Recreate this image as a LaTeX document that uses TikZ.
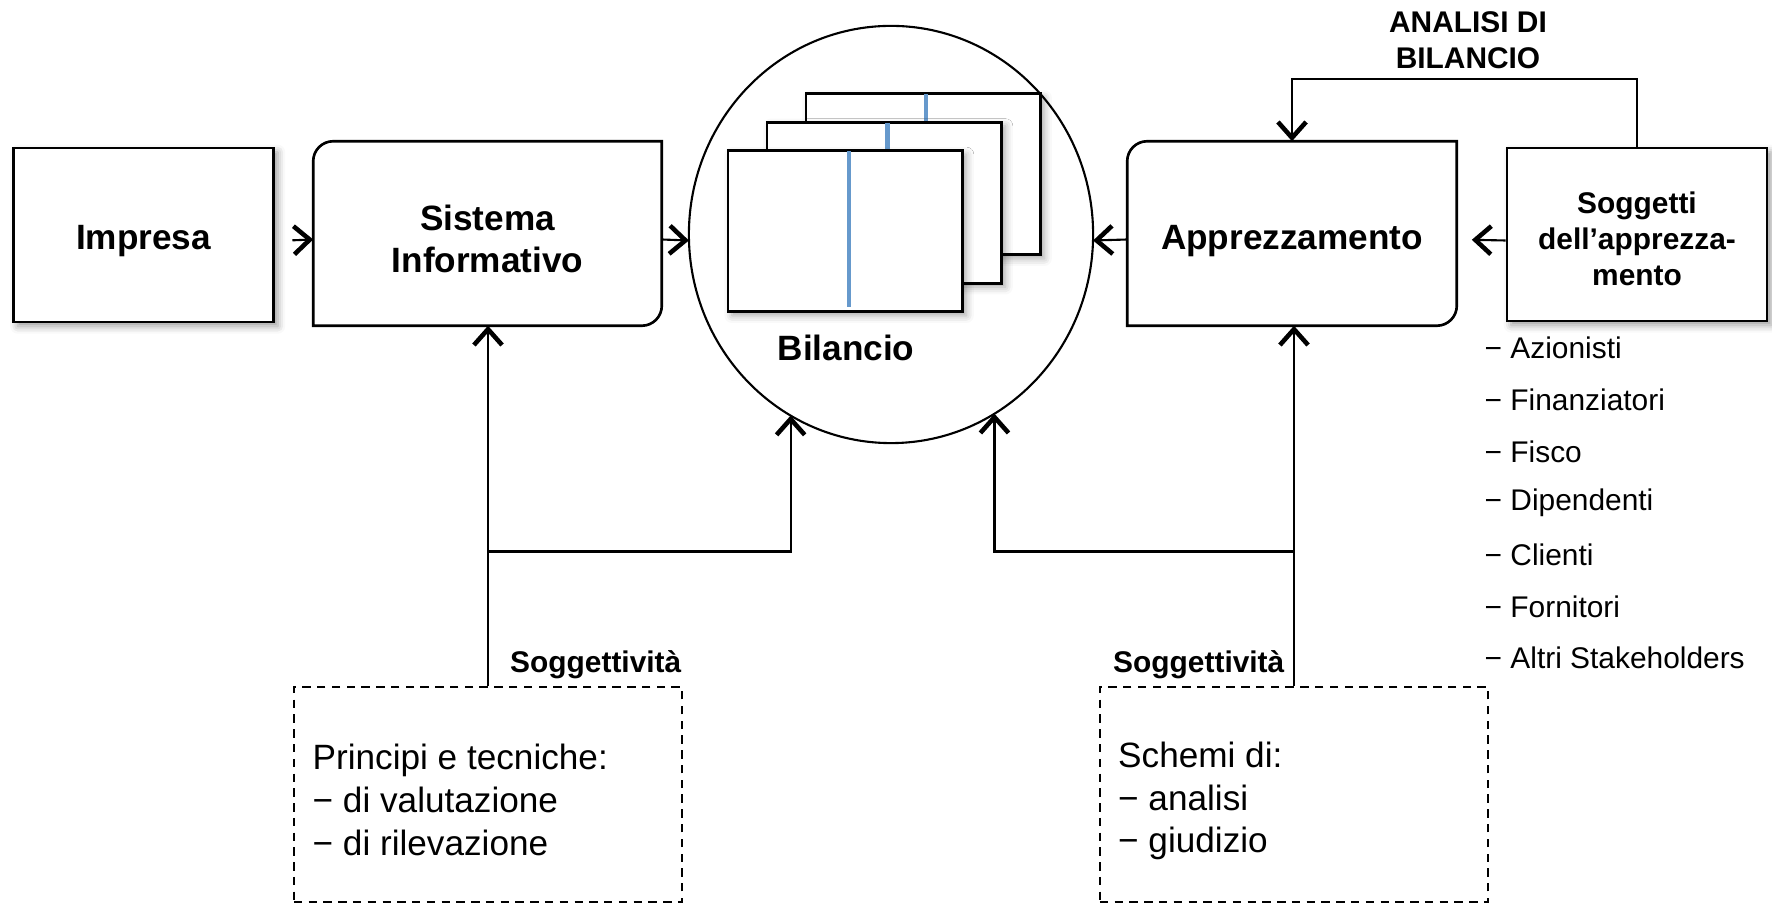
\documentclass[tikz,border=0pt]{standalone}
\usepackage{fontspec}
\setmainfont{Liberation Sans}
\usetikzlibrary{arrows.meta,positioning,shapes.geometric,shadows.blur}
\definecolor{ink}{HTML}{000000}
\definecolor{pageblue}{HTML}{6699CC}

\begin{document}
\begin{tikzpicture}[x=0.01cm,y=-0.01cm,
    box/.style={draw=ink,line width=0.75pt,fill=white,inner sep=0pt,
      blur shadow={shadow xshift=1.2pt,shadow yshift=-1.2pt,shadow opacity=40}},
    roundbox/.style={inner sep=0pt,minimum height=1.83cm},
    dashbox/.style={draw=ink,line width=0.6pt,dash pattern=on 2.4pt off 1.8pt,
      minimum width=3.88cm,minimum height=2.15cm,inner sep=0pt},
    boxfont/.style={font=\bfseries\fontsize{10}{12}\selectfont,align=center},
    labfont/.style={font=\bfseries\fontsize{8.5}{10.2}\selectfont,align=center},
    bodytext/.style={font=\fontsize{10}{12.2}\selectfont,align=left,anchor=west,inner sep=0pt},
    stake/.style={font=\fontsize{8.5}{10}\selectfont,anchor=west,inner sep=0pt},
    arr/.style={line width=0.6pt,-{Straight Barb[length=4.5pt,width=8pt,line width=1.3pt]}},
    page/.style={draw=ink,line width=0.75pt,fill=white,
      blur shadow={shadow xshift=1.1pt,shadow yshift=-1.1pt,shadow opacity=35}}]
  \useasboundingbox (0,0) rectangle (1772,904);

  % top row
  \node[box,minimum width=2.60cm,minimum height=1.74cm] (imp) at (143.5,235) {};
  \node[boxfont] (imptxt) at (143.5,241) {Impresa};
  \node[roundbox,minimum width=3.47cm] (sis) at (487.5,233.5) {};
  \draw[line width=0.75pt] (sis.south west) -- ([yshift=-0.2cm]sis.north west)
    arc[start angle=180,end angle=90,radius=0.2cm] -- (sis.north east)
    -- ([yshift=0.2cm]sis.south east) arc[start angle=0,end angle=-90,radius=0.2cm] -- cycle;
  \node[boxfont] (sistxt) at (487.5,239) {Sistema\\Informativo};
  \node[roundbox,minimum width=3.28cm] (app) at (1292,233.5) {};
  \draw[line width=0.75pt] (app.south west) -- ([yshift=-0.2cm]app.north west)
    arc[start angle=180,end angle=90,radius=0.2cm] -- (app.north east)
    -- ([yshift=0.2cm]app.south east) arc[start angle=0,end angle=-90,radius=0.2cm] -- cycle;
  \node[boxfont] (apptxt) at (1292,241) {Apprezzamento};
  \node[box,minimum width=2.60cm,minimum height=1.73cm] (sog) at (1637,234.5) {};
  \node[labfont] (sogtxt) at (1637,239) {Soggetti\\dell’apprezza-\\mento};

  % bilancio
  \node[ellipse,draw=ink,line width=0.6pt,minimum width=4.04cm,minimum height=4.17cm,
        inner sep=0pt,outer sep=0pt] (bil) at (891,234.5) {};
  \foreach \i in {2,1,0}{
    \filldraw[page] (728+39*\i,150.7-28.5*\i) rectangle ++(234.5,161);
    \draw[pageblue,line width=1.3pt] (849+38.5*\i,151.5-28.5*\i) -- ++(0,156);
  }
  \node[boxfont] (biltxt) at (846,348) {Bilancio};

  \draw[arr,shorten <=5pt] ([yshift=-0.06cm]imp.east) -- ([yshift=-0.06cm]sis.west);
  \draw[arr] ([yshift=-0.06cm]sis.east) -- ([yshift=-0.06cm]bil.west);
  \draw[arr] ([yshift=-0.06cm]app.west) -- ([yshift=-0.06cm]bil.east);
  \draw[arr,shorten >=0.15cm] ([yshift=-0.06cm]sog.west) -- ([yshift=-0.06cm]app.east);

  % analisi di bilancio
  \node[labfont] (ana) at (1468,40) {ANALISI DI\\BILANCIO};
  \coordinate (turn) at (1636,79);
  \draw[arr] (sog.north) -- (sog.north |- turn) -| (app.north);

  % stakeholders
  \foreach \t [count=\i] in {Azionisti,Finanziatori,Fisco,Dipendenti,Clienti,Fornitori,Altri Stakeholders}{
    \node[stake] (st\i) at (1484,348+51.7*\i-51.7) {− \t};
  }

  % subjectivity boxes
  \node[dashbox] (pri) at (488,794.5) {};
  \node[bodytext] (pritxt) at (312,800) {Principi e tecniche:\\− di valutazione\\− di rilevazione};
  \node[dashbox] (sch) at (1294,794.5) {};
  \node[bodytext] (schtxt) at (1117.5,801) {Schemi di:\\− analisi\\− giudizio};
  \node[labfont,anchor=base east,inner sep=0pt] (sogl) at (682,673) {Soggettività};
  \node[labfont,anchor=base east,inner sep=0pt] (sogr) at (1285,673) {Soggettività};

  \coordinate (jl) at (488,551.5);
  \coordinate (jr) at (1294,551.5);
  \draw[arr] (pri.north) -- (pri.north |- sis.south);
  \draw[arr] (jl) -| (bil.-119.5);
  \draw[arr] (sch.north) -- (sch.north |- app.south);
  \draw[arr] (jr) -| (bil.-60.5);
\end{tikzpicture}
\end{document}
